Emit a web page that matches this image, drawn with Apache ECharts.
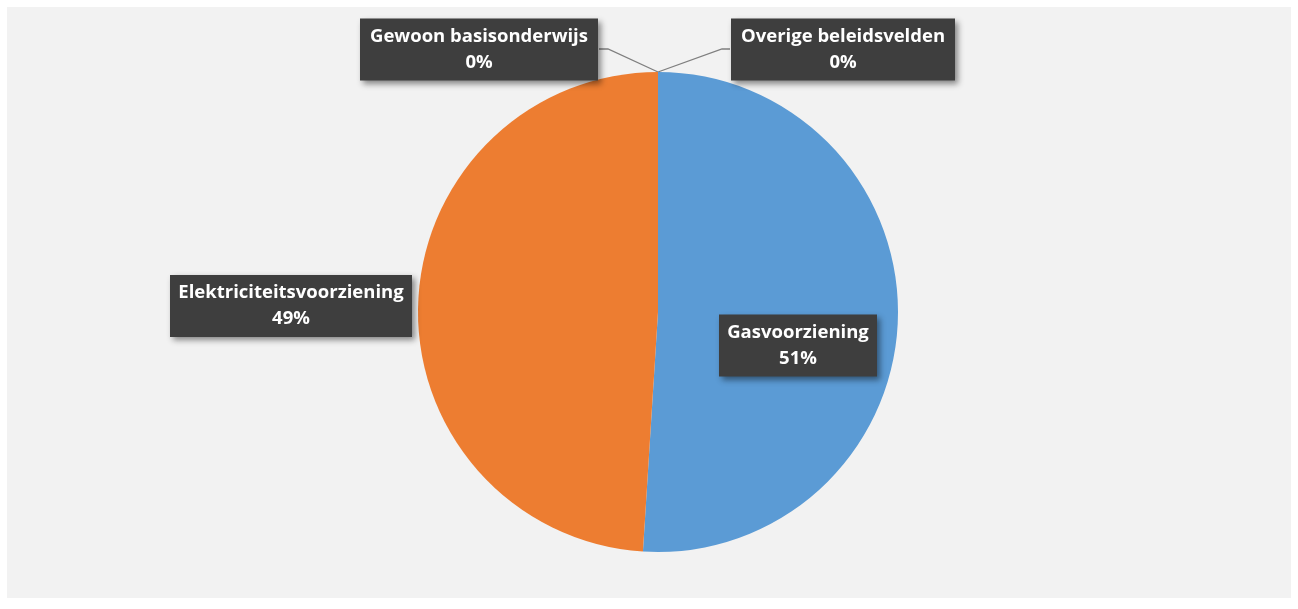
<!DOCTYPE html>
<html>
<head>
<meta charset="utf-8">
<script src="https://cdn.jsdelivr.net/npm/echarts@6/dist/echarts.min.js"></script>
<style>
html,body{margin:0;padding:0;background:#ffffff;}
#chart{width:1298px;height:609px;}
</style>
</head>
<body>
<div id="chart"></div>
<script>
// Data (clockwise from 12 o'clock)
const categories = ['Overige beleidsvelden', 'Gasvoorziening', 'Elektriciteitsvoorziening', 'Gewoon basisonderwijs'];
const values = [0.001, 51, 49, 0.001];
const colors = ['#a5a5a5', '#5b9bd5', '#ed7d31', '#ffc000'];

// label placements (center of label box) and leader lines
const labelPos = {
  0: { x: 843, y: 49.5, w: 208, line: [[722, 49], [730, 49]] },
  1: { x: 798, y: 345.5, w: 142 },
  2: { x: 291, y: 306, w: 226 },
  3: { x: 479, y: 49.5, w: 222, line: [[608, 49], [599, 49]] }
};

const chart = echarts.init(document.getElementById('chart'), null, { renderer: 'canvas' });

const data = categories.map((name, i) => ({
  name: name,
  value: values[i],
  itemStyle: { color: colors[i] },
  label: { width: labelPos[i].w },
  labelLine: { show: !!labelPos[i].line }
}));

chart.setOption({
  backgroundColor: '#ffffff',
  animation: false,
  graphic: [{
    type: 'rect',
    z: -10,
    silent: true,
    shape: { x: 7, y: 7, width: 1284, height: 591 },
    style: { fill: '#f2f2f2' }
  }],
  series: [{
    type: 'pie',
    center: [658, 312],
    radius: 240,
    startAngle: 90,
    clockwise: true,
    minShowLabelAngle: 0,
    avoidLabelOverlap: false,
    data: data,
    label: {
      show: true,
      position: 'outside',
      formatter: function (p) { return p.name + '\n' + Math.round(p.percent) + '%'; },
      color: '#ffffff',
      fontFamily: '"Open Sans", "Noto Sans", sans-serif',
      fontWeight: 'bold',
      fontSize: 18.5,
      lineHeight: 26,
      align: 'center',
      overflow: 'none',
      padding: [5, 8, 5, 8],
      backgroundColor: '#3e3e3e',
      shadowColor: 'rgba(0,0,0,0.45)',
      shadowBlur: 6,
      shadowOffsetX: 3,
      shadowOffsetY: 3,
      textShadowColor: 'transparent',
      textShadowBlur: 0
    },
    labelLine: {
      show: true,
      lineStyle: { color: '#7f7f7f', width: 1.3 }
    },
    labelLayout: function (params) {
      const p = labelPos[params.dataIndex];
      const out = { x: p.x, y: p.y, align: 'center', verticalAlign: 'middle' };
      if (p.line) {
        out.labelLinePoints = [[658, 72], p.line[0], p.line[1]];
      }
      return out;
    },
    emphasis: { disabled: true }
  }]
});
</script>
</body>
</html>
